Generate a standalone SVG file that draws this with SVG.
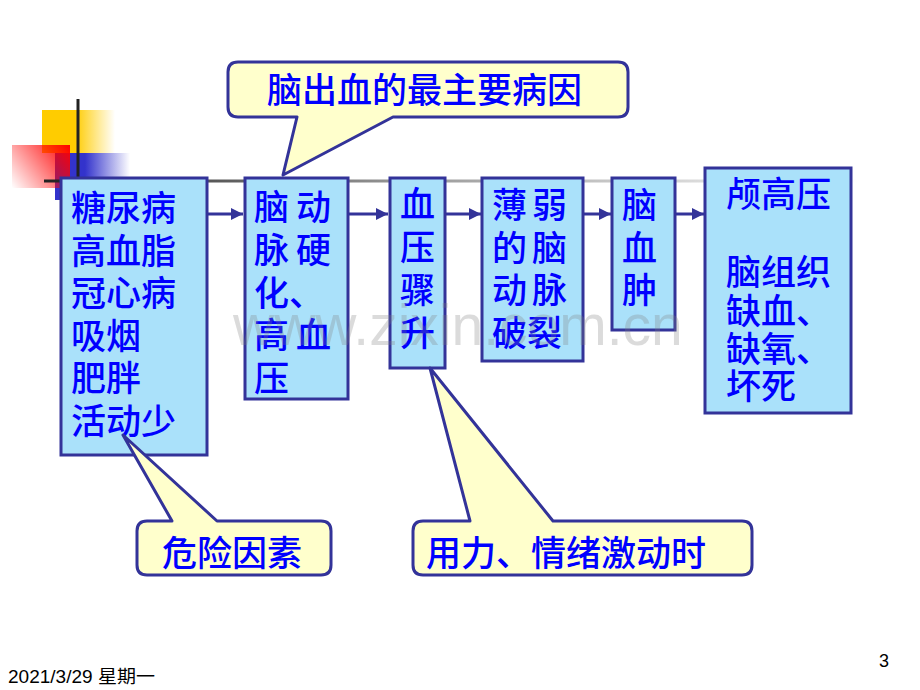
<svg xmlns="http://www.w3.org/2000/svg" width="920" height="690" viewBox="0 0 920 690">
<defs>
  <linearGradient id="gYellow" x1="42" y1="0" x2="115" y2="0" gradientUnits="userSpaceOnUse">
    <stop offset="0.45" stop-color="#FFCC00"/>
    <stop offset="1" stop-color="#FFCC00" stop-opacity="0"/>
  </linearGradient>
  <linearGradient id="gBlue" x1="55" y1="0" x2="130" y2="0" gradientUnits="userSpaceOnUse">
    <stop offset="0.4" stop-color="#3333CC"/>
    <stop offset="1" stop-color="#3333CC" stop-opacity="0"/>
  </linearGradient>
  <linearGradient id="gRed" x1="70" y1="145" x2="12" y2="188" gradientUnits="userSpaceOnUse">
    <stop offset="0" stop-color="#FF0000"/>
    <stop offset="1" stop-color="#FF0000" stop-opacity="0"/>
  </linearGradient>
  <linearGradient id="gLine" x1="44" y1="0" x2="860" y2="0" gradientUnits="userSpaceOnUse">
    <stop offset="0" stop-color="#222222"/>
    <stop offset="0.45" stop-color="#999999"/>
    <stop offset="1" stop-color="#FFFFFF"/>
  </linearGradient>
  <marker id="arrow" markerUnits="userSpaceOnUse" markerWidth="14" markerHeight="14" refX="12" refY="6" orient="auto">
    <path d="M0,0 L12,6 L0,12 Z" fill="#333399"/>
  </marker>
  <style>
    .box { fill: #AAE1FA; stroke: #333399; stroke-width: 3; }
    .call { fill: #FFFFCC; stroke: #333399; stroke-width: 3; stroke-linejoin: round; }
    .t { font-family: "Noto Sans CJK SC", "Noto Sans", sans-serif; font-size: 35px; font-weight: 500; fill: #0000FF; }
    .conn { stroke: #333399; stroke-width: 3; fill: none; marker-end: url(#arrow); }
    .foot { font-family: "Liberation Sans", "Noto Sans CJK SC", sans-serif; fill: #000000; }
  </style>
</defs>
<rect width="920" height="690" fill="#FFFFFF"/>

<g id="decoration">
  <rect x="42" y="110" width="73" height="43" fill="url(#gYellow)"/>
  <rect x="55" y="153" width="75" height="47" fill="url(#gBlue)"/>
  <rect x="12" y="145" width="58" height="43" fill="url(#gRed)"/>
  <line x1="78" y1="99" x2="78" y2="180" stroke="#222222" stroke-width="3"/>
  <line x1="44" y1="181" x2="860" y2="181" stroke="url(#gLine)" stroke-width="3"/>
</g>

<g id="n-risk">
  <rect class="box" x="61" y="178" width="146" height="277"/>
  <text class="t" x="71" y="221">糖尿病</text>
  <text class="t" x="71" y="264">高血脂</text>
  <text class="t" x="71" y="306">冠心病</text>
  <text class="t" x="71" y="349">吸烟</text>
  <text class="t" x="71" y="391">肥胖</text>
  <text class="t" x="71" y="434">活动少</text>
</g>

<g id="n-athero">
  <rect class="box" x="245" y="178" width="103" height="221"/>
  <text class="t" x="254 296" y="220">脑动</text>
  <text class="t" x="254 296" y="263">脉硬</text>
  <text class="t" x="254" y="306">化、</text>
  <text class="t" x="254 296" y="348">高血</text>
  <text class="t" x="254" y="391">压</text>
</g>

<g id="n-bp">
  <rect class="box" x="390" y="178" width="55" height="190"/>
  <text class="t" x="400" y="217">血</text>
  <text class="t" x="400" y="260">压</text>
  <text class="t" x="400" y="303">骤</text>
  <text class="t" x="400" y="346">升</text>
</g>

<g id="n-rupture">
  <rect class="box" x="482" y="178" width="101" height="183"/>
  <text class="t" x="492 532" y="218">薄弱</text>
  <text class="t" x="492 532" y="261">的脑</text>
  <text class="t" x="492 532" y="303">动脉</text>
  <text class="t" x="492" y="346">破裂</text>
</g>

<g id="n-hematoma">
  <rect class="box" x="612" y="178" width="63" height="152"/>
  <text class="t" x="622" y="218">脑</text>
  <text class="t" x="622" y="261">血</text>
  <text class="t" x="622" y="303">肿</text>
</g>

<g id="n-result">
  <rect class="box" x="705" y="168" width="146" height="245"/>
  <text class="t" x="726" y="207">颅高压</text>
  <text class="t" x="726" y="285">脑组织</text>
  <text class="t" x="726" y="324">缺血、</text>
  <text class="t" x="726" y="362">缺氧、</text>
  <text class="t" x="726" y="399">坏死</text>
</g>

<g id="connectors">
  <line class="conn" x1="208" y1="214" x2="243" y2="214"/>
  <line class="conn" x1="349" y1="214" x2="388" y2="214"/>
  <line class="conn" x1="446" y1="214" x2="481" y2="214"/>
  <line class="conn" x1="584" y1="214" x2="611" y2="214"/>
  <line class="conn" x1="676" y1="214" x2="704" y2="214"/>
</g>

<g id="c-main-cause">
  <path class="call" d="M238,62 H618 Q628,62 628,72 V107 Q628,117 618,117 H393 L283,175 L297,117 H238 Q228,117 228,107 V72 Q228,62 238,62 Z"/>
  <text class="t" x="267" y="103">脑出血的最主要病因</text>
</g>

<g id="c-risk">
  <path class="call" d="M147,521 H172 L123,435 L217,521 H321 Q331,521 331,531 V565 Q331,575 321,575 H147 Q137,575 137,565 V531 Q137,521 147,521 Z"/>
  <text class="t" x="162" y="566">危险因素</text>
</g>

<g id="c-trigger">
  <path class="call" d="M423,521 H470 L430,368 L553,521 H742 Q752,521 752,531 V565 Q752,575 742,575 H423 Q413,575 413,565 V531 Q413,521 423,521 Z"/>
  <text class="t" x="426" y="566">用力、情绪激动时</text>
</g>

<text x="233" y="345" font-family="Liberation Sans, Arial, sans-serif" font-size="57" fill="#808080" opacity="0.28">www.zixin.com.cn</text>

<text class="foot" x="8" y="683" font-size="18" textLength="147" lengthAdjust="spacingAndGlyphs">2021/3/29 星期一</text>
<text class="foot" x="879" y="667" font-size="18">3</text>
</svg>
